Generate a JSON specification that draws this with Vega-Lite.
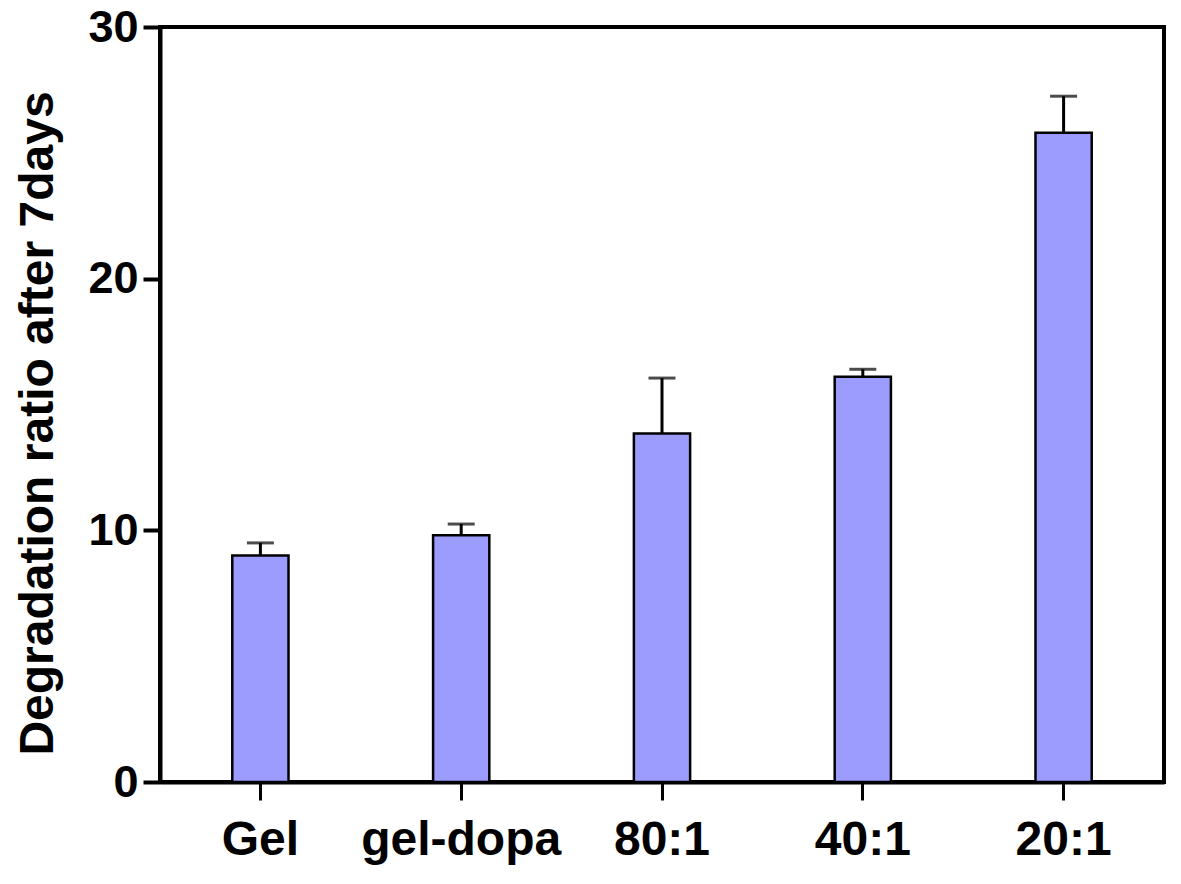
{
  "$schema": "https://vega.github.io/schema/vega-lite/v6.json",
  "autosize": "none",
  "width": 1004,
  "height": 755,
  "padding": {"left": 160, "top": 27, "right": 17, "bottom": 102},
  "background": "white",
  "config": {
    "view": {"stroke": "black", "strokeWidth": 4},
    "axis": {
      "domainColor": "black",
      "domainWidth": 4,
      "tickColor": "black",
      "tickWidth": 4,
      "grid": false,
      "labelFont": "Liberation Sans",
      "labelFontWeight": "bold",
      "labelColor": "black",
      "titleFont": "Liberation Sans",
      "titleFontWeight": "bold",
      "titleColor": "black"
    }
  },
  "data": {
    "values": [
      {"group": "Gel", "mean": 9.0, "upper": 9.5},
      {"group": "gel-dopa", "mean": 9.8, "upper": 10.25},
      {"group": "80:1", "mean": 13.85, "upper": 16.05},
      {"group": "40:1", "mean": 16.1, "upper": 16.4},
      {"group": "20:1", "mean": 25.8, "upper": 27.25}
    ]
  },
  "encoding": {
    "x": {
      "field": "group",
      "type": "nominal",
      "sort": null,
      "scale": {"paddingInner": 0.72, "paddingOuter": 0.36},
      "axis": {"title": null, "labelAngle": 0, "labelFontSize": 48, "labelLimit": 400, "labelPadding": 16, "tickSize": 18, "tickWidth": 3}
    }
  },
  "layer": [
    {
      "mark": {"type": "rule", "color": "black", "strokeWidth": 3},
      "encoding": {
        "y": {"field": "mean", "type": "quantitative"},
        "y2": {"field": "upper"}
      }
    },
    {
      "mark": {"type": "tick", "color": "black", "thickness": 3, "size": 27},
      "encoding": {
        "y": {"field": "upper", "type": "quantitative"}
      }
    },
    {
      "mark": {"type": "bar", "color": "#9C9CFF", "stroke": "black", "strokeWidth": 2.5},
      "encoding": {
        "y": {
          "field": "mean",
          "type": "quantitative",
          "scale": {"domain": [0, 30], "nice": false},
          "axis": {
            "title": "Degradation ratio after 7days",
            "values": [0, 10, 20, 30],
            "tickSize": 17,
            "labelFontSize": 45,
            "labelPadding": 5,
            "titleFontSize": 48,
            "titlePadding": 25,
            "titleY": 396
          }
        }
      }
    }
  ]
}
